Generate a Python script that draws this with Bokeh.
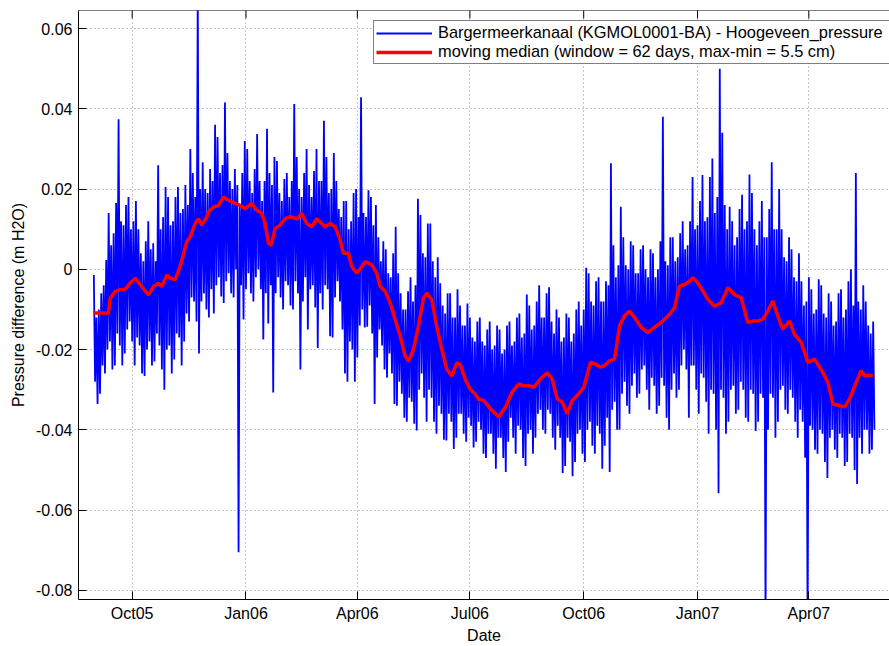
import pandas as pd
from bokeh.plotting import figure
from bokeh.models import Range1d, FixedTicker, Legend, LegendItem, Span
from bokeh.embed import file_html
from bokeh.resources import INLINE

# ---------------- data ----------------
base_date = "2005-10-01"          # day 0 of all day offsets below

# blue series: highest and lowest reading in each 2-day bin (m H2O)
blue_first_day = -31.5            # start of first bin, days from base_date
blue_bin_days = 2
blue_hi = [
    -0.0014, -0.012, -0.010, -0.006, -0.004, 0.0023, 0.014, 0.006, 0.009, 0.0165,
    0.0374, 0.012, 0.011, 0.016, 0.018, 0.010, 0.012, 0.017, 0.010, 0.004,
    0.002, 0.007, 0.012, 0.005, 0.0065, 0.002, 0.0259, 0.010, 0.013, 0.0205,
    0.018, 0.011, 0.012, 0.018, 0.0205, 0.014, 0.015, 0.021, 0.016, 0.030,
    0.024, 0.018, 0.070, 0.020, 0.0267, 0.020, 0.019, 0.025, 0.022, 0.036,
    0.033, 0.024, 0.026, 0.0416, 0.029, 0.022, 0.020, 0.025, 0.021, 0.016,
    0.024, 0.032, 0.030, 0.022, 0.019, 0.025, 0.0337, 0.022, 0.017, 0.022,
    0.035, 0.024, 0.021, 0.028, 0.027, 0.019, 0.017, 0.0225, 0.024, 0.018,
    0.022, 0.0412, 0.028, 0.020, 0.018, 0.024, 0.030, 0.021, 0.018, 0.0245,
    0.030, 0.022, 0.022, 0.037, 0.028, 0.019, 0.020, 0.029, 0.022, 0.015,
    0.013, 0.017, 0.017, 0.010, 0.012, 0.019, 0.020, 0.013, 0.0429, 0.014,
    0.013, 0.0197, 0.018, 0.011, 0.016, 0.008, 0.002, 0.007, 0.005, -0.001,
    -0.002, 0.004, 0.0106, -0.001, -0.006, -0.010, -0.010, -0.0055, -0.002, -0.008,
    -0.004, 0.0176, 0.0135, 0.004, 0.003, 0.0114, 0.0114, 0.002, -0.002, 0.003,
    -0.0035, -0.009, -0.011, -0.006, -0.006, -0.012, -0.012, -0.005, -0.009, -0.014,
    -0.014, -0.0085, -0.012, -0.017, -0.018, -0.013, -0.012, -0.018, -0.019, -0.015,
    -0.013, -0.020, -0.019, -0.014, -0.015, -0.021, -0.020, -0.014, -0.013, -0.019,
    -0.018, -0.012, -0.011, -0.017, -0.016, -0.0063, -0.009, -0.015, -0.014, -0.008,
    -0.004, -0.012, -0.012, -0.006, -0.0045, -0.013, -0.016, -0.010, -0.012, -0.018,
    -0.017, -0.011, -0.012, -0.018, -0.016, -0.010, -0.008, -0.014, -0.010, 0.0004,
    -0.001, -0.008, -0.009, -0.003, -0.002, -0.008, -0.008, -0.003, -0.004, 0.0264,
    0.006, -0.002, 0.001, 0.0156, 0.008, 0.001, 0.0, 0.007, 0.006, -0.001,
    -0.001, 0.005, 0.006, 0.0, -0.002, 0.005, 0.004, -0.002, 0.0, 0.007,
    0.038, 0.002, 0.001, 0.008, 0.008, 0.002, 0.003, 0.009, 0.012, 0.005,
    0.006, 0.012, 0.023, 0.010, 0.011, 0.017, 0.0235, 0.012, 0.013, 0.023,
    0.0276, 0.014, 0.018, 0.050, 0.034, 0.016, 0.010, 0.0156, 0.012, 0.006,
    0.008, 0.015, 0.0186, 0.010, 0.012, 0.0236, 0.019, 0.010, 0.006, 0.012,
    0.017, 0.008, 0.008, 0.015, 0.0267, 0.010, 0.010, 0.020, 0.010, 0.003,
    0.002, 0.008, 0.005, -0.002, -0.003, 0.004, -0.003, -0.009, -0.008, -0.002,
    -0.005, -0.011, -0.010, -0.0025, -0.004, -0.011, -0.012, -0.006, -0.008, -0.014,
    -0.013, -0.006, -0.005, -0.012, -0.010, -0.003, 0.0, -0.009, 0.024, -0.008,
    -0.010, -0.004, -0.008, -0.014, -0.016, -0.013,
]
blue_lo = [
    -0.028, -0.0336, -0.031, -0.024, -0.026, -0.020, -0.018, -0.025, -0.024, -0.016,
    -0.019, -0.024, -0.021, -0.015, -0.013, -0.018, -0.024, -0.017, -0.019, -0.026,
    -0.0266, -0.020, -0.018, -0.024, -0.023, -0.016, -0.019, -0.025, -0.030, -0.020,
    -0.019, -0.026, -0.0225, -0.016, -0.017, -0.024, -0.018, -0.011, -0.013, -0.007,
    -0.008, -0.013, -0.021, -0.008, -0.006, -0.010, -0.012, -0.005, -0.011, -0.004,
    -0.002, -0.0068, -0.0084, -0.003, -0.001, -0.006, -0.007, 0.0, -0.0705, -0.004,
    -0.0125, -0.005, -0.001, -0.006, -0.008, -0.002, 0.0, -0.005, -0.0175, -0.006,
    -0.0135, -0.004, -0.0307, -0.006, -0.002, -0.007, -0.010, -0.003, -0.004, -0.009,
    -0.010, -0.003, -0.006, -0.025, -0.008, -0.002, -0.015, -0.005, -0.004, -0.0095,
    -0.0196, -0.006, -0.010, -0.004, -0.005, -0.0167, -0.017, -0.007, -0.003, -0.008,
    -0.015, -0.026, -0.028, -0.018, -0.020, -0.028, -0.022, -0.014, -0.010, -0.0145,
    -0.0143, -0.009, -0.016, -0.0336, -0.022, -0.015, -0.019, -0.025, -0.027, -0.021,
    -0.026, -0.0336, -0.034, -0.028, -0.031, -0.037, -0.038, -0.032, -0.033, -0.0385,
    -0.0402, -0.030, -0.026, -0.032, -0.038, -0.030, -0.032, -0.038, -0.041, -0.034,
    -0.036, -0.0425, -0.0427, -0.036, -0.038, -0.0448, -0.042, -0.036, -0.036, -0.041,
    -0.043, -0.037, -0.039, -0.0444, -0.043, -0.038, -0.040, -0.046, -0.047, -0.041,
    -0.041, -0.046, -0.0497, -0.042, -0.042, -0.047, -0.0505, -0.043, -0.037, -0.042,
    -0.046, -0.039, -0.040, -0.047, -0.049, -0.041, -0.040, -0.046, -0.042, -0.036,
    -0.035, -0.040, -0.041, -0.035, -0.036, -0.042, -0.045, -0.039, -0.042, -0.0508,
    -0.049, -0.042, -0.043, -0.0516, -0.048, -0.041, -0.040, -0.046, -0.048, -0.040,
    -0.038, -0.044, -0.046, -0.039, -0.041, -0.0497, -0.044, -0.037, -0.0505, -0.035,
    -0.033, -0.040, -0.040, -0.031, -0.028, -0.034, -0.036, -0.029, -0.026, -0.032,
    -0.031, -0.025, -0.024, -0.030, -0.035, -0.027, -0.029, -0.036, -0.034, -0.027,
    -0.029, -0.037, -0.040, -0.030, -0.026, -0.032, -0.030, -0.024, -0.020, -0.025,
    -0.037, -0.024, -0.024, -0.030, -0.036, -0.026, -0.027, -0.033, -0.041, -0.030,
    -0.031, -0.040, -0.0558, -0.030, -0.032, -0.041, -0.038, -0.030, -0.029, -0.036,
    -0.035, -0.028, -0.030, -0.037, -0.038, -0.030, -0.031, -0.0403, -0.038, -0.031,
    -0.032, -0.090, -0.040, -0.031, -0.032, -0.042, -0.038, -0.030, -0.029, -0.035,
    -0.036, -0.030, -0.032, -0.038, -0.042, -0.035, -0.038, -0.047, -0.090, -0.039,
    -0.040, -0.045, -0.046, -0.040, -0.041, -0.048, -0.052, -0.042, -0.040, -0.045,
    -0.047, -0.041, -0.042, -0.049, -0.048, -0.041, -0.042, -0.050, -0.0535, -0.042,
    -0.046, -0.040, -0.040, -0.046, -0.045, -0.040,
]

# red moving median: (day offset from base_date, value)
red_day = [
    -31.3, -19.2, -17.8, -13.7, -9.7, -5.7, -3.0, 2.4, 7.8, 13.2,
    17.2, 21.3, 23.9, 28.0, 30.7, 34.8, 38.8, 44.1, 46.9, 50.9,
    53.6, 56.3, 60.3, 61.7, 65.7, 69.8, 73.8, 77.8, 83.3, 87.3,
    91.4, 96.7, 100.7, 104.8, 107.5, 110.2, 112.4, 115.6, 119.6, 123.7,
    127.7, 133.1, 137.1, 141.1, 145.2, 149.2, 153.3, 156.0, 160.1, 164.1,
    168.1, 170.8, 174.9, 177.5, 181.6, 188.4, 193.7, 197.7, 200.5, 204.5,
    208.6, 212.6, 216.7, 220.7, 223.4, 227.4, 231.4, 235.5, 238.2, 242.2,
    246.2, 250.3, 254.3, 258.4, 262.4, 265.2, 269.2, 273.2, 277.3, 280.0,
    284.2, 289.7, 296.4, 301.8, 307.2, 312.5, 316.6, 320.6, 324.7, 330.1,
    335.5, 339.5, 343.6, 347.6, 351.7, 355.7, 361.0, 365.1, 370.5, 374.5,
    378.6, 381.8, 385.9, 389.9, 394.0, 398.0, 402.1, 406.1, 411.5, 416.8,
    422.2, 428.9, 434.4, 438.4, 442.4, 446.5, 450.5, 453.2, 457.2, 461.3,
    465.3, 470.7, 476.2, 481.5, 486.9, 492.3, 497.7, 501.7, 505.7, 509.8,
    513.8, 517.9, 521.9, 525.9, 531.4, 535.4, 540.8, 546.2, 551.6, 558.3,
    562.4, 566.4, 571.8, 575.9, 579.9, 585.3, 589.3, 592.0, 598.7,
]
red_val = [
    -0.0109, -0.0109, -0.0072, -0.0055, -0.0051, -0.0050, -0.0039, -0.0022, -0.0043, -0.0064,
    -0.0043, -0.0035, -0.0043, -0.0014, -0.0022, -0.0026, 0.0007, 0.0069, 0.0081, 0.0114,
    0.0126, 0.0110, 0.0130, 0.0143, 0.0155, 0.0159, 0.0180, 0.0172, 0.0164, 0.0159,
    0.0151, 0.0164, 0.0147, 0.0139, 0.0114, 0.0064, 0.0060, 0.0102, 0.0110, 0.0126,
    0.0131, 0.0126, 0.0139, 0.0114, 0.0106, 0.0126, 0.0114, 0.0106, 0.0114, 0.0106,
    0.0073, 0.0040, 0.0040, 0.0007, -0.0010, 0.0019, 0.0011, -0.0010, -0.0043, -0.0055,
    -0.0084, -0.0126, -0.0167, -0.0216, -0.0229, -0.0200, -0.0142, -0.0072, -0.0059, -0.0076,
    -0.0142, -0.0200, -0.0249, -0.0266, -0.0233, -0.0237, -0.0274, -0.0299, -0.0311, -0.0324,
    -0.0327, -0.0348, -0.0368, -0.0343, -0.0306, -0.0286, -0.0290, -0.0290, -0.0294, -0.0273,
    -0.0258, -0.0273, -0.0323, -0.0331, -0.0360, -0.0327, -0.0310, -0.0294, -0.0232, -0.0236,
    -0.0244, -0.0240, -0.0228, -0.0224, -0.0141, -0.0116, -0.0104, -0.0120, -0.0145, -0.0158,
    -0.0145, -0.0129, -0.0112, -0.0096, -0.0042, -0.0038, -0.0030, -0.0021, -0.0034, -0.0054,
    -0.0075, -0.0092, -0.0083, -0.0046, -0.0063, -0.0071, -0.0133, -0.0129, -0.0129, -0.0125,
    -0.0104, -0.0079, -0.0116, -0.0149, -0.0129, -0.0162, -0.0182, -0.0232, -0.0224, -0.0257,
    -0.0282, -0.0335, -0.0340, -0.0343, -0.0323, -0.0282, -0.0253, -0.0265, -0.0265,
]

xtick_dates = ["2005-10-01", "2006-01-01", "2006-04-01", "2006-07-01",
               "2006-10-01", "2007-01-01", "2007-04-01"]
xtick_labels = ["Oct05", "Jan06", "Apr06", "Jul06", "Oct06", "Jan07", "Apr07"]
ytick_vals = [-0.08, -0.06, -0.04, -0.02, 0.0, 0.02, 0.04, 0.06]
ytick_labels = ["-0.08", "-0.06", "-0.04", "-0.02", "0", "0.02", "0.04", "0.06"]

label_blue = "Bargermeerkanaal (KGMOL0001-BA) - Hoogeveen_pressure"
label_red = "moving median (window = 62 days, max-min = 5.5 cm)"

# ---------------- build ----------------
base = pd.Timestamp(base_date)
day = pd.Timedelta(days=1)

# trace swinging between each bin's high and low reading
blue_t, blue_v = [], []
for i, (hi, lo) in enumerate(zip(blue_hi, blue_lo)):
    d0 = blue_first_day + blue_bin_days * i
    blue_t.append(base + (d0 + 0.5) * day)
    blue_v.append(hi)
    blue_t.append(base + (d0 + 1.5) * day)
    blue_v.append(lo)

red_t = [base + d * day for d in red_day]

FONT = "Liberation Sans"
Y0, Y1 = -0.0823, 0.0645
FRAME_H = 592
TICK_PX = 8

p = figure(width=889, height=646, x_axis_type="datetime",
           output_backend="svg", toolbar_location=None,
           x_range=Range1d(base - 43.4 * day, base + 612.2 * day),
           y_range=Range1d(Y0, Y1),
           min_border_left=78, min_border_right=0,
           min_border_top=10, min_border_bottom=44)
p.outline_line_color = None
p.background_fill_color = "white"
p.border_fill_color = "white"

for g in (p.xgrid[0], p.ygrid[0]):
    g.grid_line_color = "#8c8c8c"
    g.grid_line_dash = "1 3"
    g.grid_line_width = 1

rb = p.line(blue_t, blue_v, line_color="#0000ff", line_width=1.8)
rr = p.line(red_t, red_val, line_color="#ff0000", line_width=3.5)

xt = [pd.Timestamp(d) for d in xtick_dates]
xt_ms = [t.value / 1e6 for t in xt]
p.xaxis.ticker = FixedTicker(ticks=xt_ms)
p.xaxis.major_label_overrides = {t: l for t, l in zip(xt_ms, xtick_labels)}
p.yaxis.ticker = FixedTicker(ticks=ytick_vals)
p.yaxis.major_label_overrides = {v: l for v, l in zip(ytick_vals, ytick_labels)}

p.xaxis.axis_label = "Date"
p.yaxis.axis_label = "Pressure difference (m H2O)"

for ax in (p.xaxis[0], p.yaxis[0]):
    ax.major_tick_in = TICK_PX
    ax.major_tick_out = 0
    ax.minor_tick_in = 0
    ax.minor_tick_out = 0
    ax.axis_line_color = "black"
    ax.major_tick_line_color = "black"
    ax.major_label_text_font = FONT
    ax.major_label_text_font_size = "16px"
    ax.major_label_text_color = "black"
    ax.axis_label_text_font = FONT
    ax.axis_label_text_font_size = "16px"
    ax.axis_label_text_font_style = "normal"
    ax.axis_label_text_color = "black"

p.xaxis.major_label_standoff = 5
p.xaxis.axis_label_standoff = 2
p.yaxis.major_label_standoff = 6
p.yaxis.axis_label_standoff = 6

# top box edge with inward tick marks at the same dates as the bottom axis
p.add_layout(Span(location=Y1, dimension="width", line_color="black", line_width=1))
tick_len = (Y1 - Y0) * TICK_PX / FRAME_H
p.segment(x0=xt, y0=[Y1] * len(xt), x1=xt, y1=[Y1 - tick_len] * len(xt),
          line_color="black", line_width=1)

legend = Legend(items=[LegendItem(label=label_blue, renderers=[rb]),
                       LegendItem(label=label_red, renderers=[rr])],
                location=(295, 535), orientation="vertical",
                label_text_font=FONT, label_text_font_size="16.4px",
                label_text_color="black",
                glyph_width=56, glyph_height=18, label_height=18,
                label_width=470, label_standoff=6, spacing=-3, padding=2,
                border_line_color="black", border_line_width=1,
                background_fill_color="white", background_fill_alpha=1)
p.add_layout(legend)

open("out.html", "w").write(file_html(p, INLINE))
